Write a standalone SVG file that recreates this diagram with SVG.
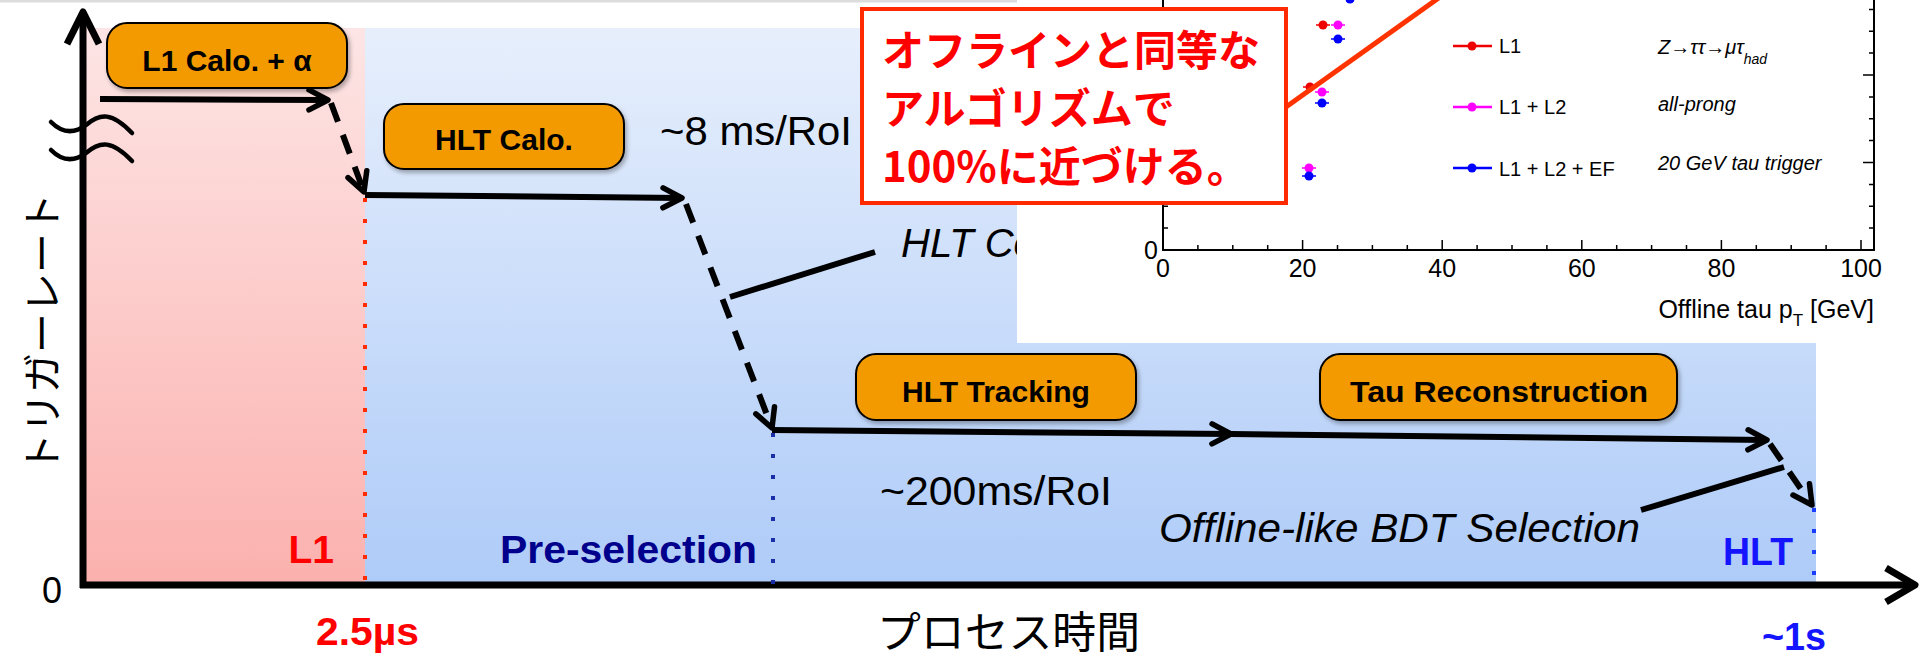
<svg xmlns="http://www.w3.org/2000/svg" width="1920" height="659" viewBox="0 0 1920 659">
  <defs>
    <linearGradient id="gPink" gradientUnits="userSpaceOnUse" x1="0" y1="28" x2="0" y2="585">
      <stop offset="0" stop-color="#fde5e5"/>
      <stop offset="1" stop-color="#fbb1ae"/>
    </linearGradient>
    <linearGradient id="gBlue" gradientUnits="userSpaceOnUse" x1="0" y1="28" x2="0" y2="585">
      <stop offset="0" stop-color="#e7effc"/>
      <stop offset="1" stop-color="#aecbf8"/>
    </linearGradient>
    <filter id="sh" x="-10%" y="-20%" width="125%" height="150%">
      <feDropShadow dx="2" dy="3" stdDeviation="2" flood-color="#000" flood-opacity="0.3"/>
    </filter>
    <marker id="ah" markerUnits="userSpaceOnUse" markerWidth="40" markerHeight="40" refX="0" refY="0" orient="auto" overflow="visible">
      <path d="M-19,-10 L0,0 L-19,10" fill="none" stroke="#000" stroke-width="5.5" stroke-linejoin="round" stroke-linecap="round"/>
    </marker>
    <style>
      .box { fill: #f29a00; stroke: #000; stroke-width: 2; }
      .boxt { font-family: "Liberation Sans", Arial, sans-serif; font-weight: bold; font-size: 30px; fill: #000; text-anchor: middle; }
      .conn { fill: none; stroke: #000; stroke-width: 6; }
      .dash { stroke-dasharray: 20 14; }
      .lbl { font-family: "Liberation Sans", Arial, sans-serif; }
      .jp { font-family: "Noto Sans CJK JP", "Noto Sans CJK SC", sans-serif; }
      .plt { font-family: "Liberation Sans", Arial, sans-serif; fill: #000; }
      .tick { fill: none; stroke: #000; stroke-width: 1.5; }
      .red { fill: #ff0000; }
      .navy { fill: #00008c; }
      .blue { fill: #1414ff; }
      .blk { fill: #000; }
    </style>
  </defs>

  <rect width="1920" height="659" fill="#fff"/>
  <rect x="0" y="0" width="1017" height="2.5" fill="#dcdcdc"/>

  <!-- background phases -->
  <g id="phase-regions">
    <rect x="84" y="28" width="281" height="557" fill="url(#gPink)"/>
    <rect x="365" y="28" width="1451" height="557" fill="url(#gBlue)"/>
  </g>

  <!-- partially hidden italic label -->
  <text class="lbl blk" x="901" y="257" font-size="40" font-style="italic">HLT Co</text>

  <!-- efficiency plot -->
  <g id="plot">
    <rect x="1017" y="0" width="903" height="343" fill="#fff"/>
    <path d="M1163,0 V250 H1874 V0" fill="none" stroke="#000" stroke-width="2"/>
    <path class="tick" d="M1163,250v-10 M1302.6,250v-10 M1442.2,250v-10 M1581.8,250v-10 M1721.4,250v-10 M1861,250v-10
      M1197.9,250v-5 M1232.8,250v-5 M1267.7,250v-5 M1337.5,250v-5 M1372.4,250v-5 M1407.3,250v-5 M1477.1,250v-5 M1512,250v-5 M1546.9,250v-5 M1616.7,250v-5 M1651.6,250v-5 M1686.5,250v-5 M1756.3,250v-5 M1791.2,250v-5 M1826.1,250v-5
      M1163,228.1h5 M1163,206.2h5 M1163,184.4h5 M1163,162.5h11 M1163,140.6h5 M1163,118.7h5 M1163,96.9h5 M1163,75h11 M1163,53.1h5 M1163,31.2h5 M1163,9.4h5
      M1874,228.1h-5 M1874,206.2h-5 M1874,184.4h-5 M1874,162.5h-11 M1874,140.6h-5 M1874,118.7h-5 M1874,96.9h-5 M1874,75h-11 M1874,53.1h-5 M1874,31.2h-5 M1874,9.4h-5"/>
    <g class="plt" font-size="25" text-anchor="middle">
      <text x="1163" y="277">0</text>
      <text x="1302.6" y="277">20</text>
      <text x="1442.2" y="277">40</text>
      <text x="1581.8" y="277">60</text>
      <text x="1721.4" y="277">80</text>
      <text x="1861" y="277">100</text>
      <text x="1158" y="259" text-anchor="end">0</text>
    </g>
    <text class="plt" x="1874" y="318" font-size="25" text-anchor="end">Offline tau p<tspan font-size="17" dy="8">T</tspan><tspan dy="-8"> [GeV]</tspan></text>
    <!-- data points -->
    <g stroke-width="1.5">
      <line x1="1316" y1="25" x2="1330" y2="25" stroke="#ee0000"/><circle cx="1323" cy="25" r="4.5" fill="#ee0000"/>
      <line x1="1331" y1="25" x2="1345" y2="25" stroke="#ff00ff"/><circle cx="1338" cy="25" r="4.5" fill="#ff00ff"/>
      <line x1="1331" y1="39" x2="1345" y2="39" stroke="#0000ff"/><circle cx="1338" cy="39" r="4.5" fill="#0000ff"/>
      <circle cx="1350" cy="-1" r="4.5" fill="#0000ff"/>
      <line x1="1303" y1="87" x2="1317" y2="87" stroke="#ee0000"/><circle cx="1310" cy="87" r="4.5" fill="#ee0000"/>
      <line x1="1315" y1="92" x2="1329" y2="92" stroke="#ff00ff"/><circle cx="1322" cy="92" r="4.5" fill="#ff00ff"/>
      <line x1="1315" y1="103" x2="1329" y2="103" stroke="#0000ff"/><circle cx="1322" cy="103" r="4.5" fill="#0000ff"/>
      <line x1="1302" y1="168" x2="1316" y2="168" stroke="#ff00ff"/><circle cx="1309" cy="168" r="4.5" fill="#ff00ff"/>
      <line x1="1302" y1="176" x2="1316" y2="176" stroke="#0000ff"/><circle cx="1309" cy="176" r="4.5" fill="#0000ff"/>
    </g>
    <!-- legend -->
    <g stroke-width="2.5">
      <line x1="1453" y1="46" x2="1492" y2="46" stroke="#ee0000"/><circle cx="1472" cy="46" r="4.5" fill="#ee0000"/>
      <line x1="1453" y1="107" x2="1492" y2="107" stroke="#ff00ff"/><circle cx="1472" cy="107" r="4.5" fill="#ff00ff"/>
      <line x1="1453" y1="168" x2="1492" y2="168" stroke="#0000ff"/><circle cx="1472" cy="168" r="4.5" fill="#0000ff"/>
    </g>
    <g class="plt" font-size="20">
      <text x="1499" y="53">L1</text>
      <text x="1499" y="114">L1 + L2</text>
      <text x="1499" y="176">L1 + L2 + EF</text>
      <text x="1658" y="54" font-style="italic">Z→ττ→μτ<tspan font-size="14" dy="10">had</tspan></text>
      <text x="1658" y="111" font-style="italic">all-prong</text>
      <text x="1658" y="170" font-style="italic">20 GeV tau trigger</text>
    </g>
  </g>

  <!-- axes -->
  <g id="axes" fill="none" stroke="#000" stroke-width="7" stroke-linejoin="round">
    <line x1="83" y1="588" x2="83" y2="13"/>
    <polyline points="67,44 83,12 99,44"/>
    <line x1="80" y1="585" x2="1913" y2="585"/>
    <polyline points="1886,568 1915,585 1886,602"/>
  </g>
  <g id="axis-break" fill="none" stroke="#000" stroke-width="4.5" stroke-linecap="round">
    <path d="M51,122 C62,133 74,134 86,125 C100,113 112,112 132,133"/>
    <path d="M51,150 C62,161 74,162 86,153 C100,141 112,140 132,161"/>
  </g>
  <text class="lbl blk" x="52" y="603" font-size="36" text-anchor="middle">0</text>
  <text class="jp blk" transform="translate(57,333) rotate(-90)" font-size="40" text-anchor="middle">トリガーレート</text>
  <text class="jp blk" x="877" y="648" font-size="43" textLength="263" lengthAdjust="spacingAndGlyphs">プロセス時間</text>

  <!-- phase boundaries -->
  <g id="boundaries" fill="none" stroke-width="4" stroke-dasharray="4 17">
    <line x1="365" y1="198" x2="365" y2="585" stroke="#ff2a00"/>
    <line x1="773" y1="433" x2="773" y2="585" stroke="#1a2ea8"/>
    <line x1="1814" y1="508" x2="1814" y2="585" stroke="#1a3cff"/>
  </g>

  <!-- connectors -->
  <g id="connectors">
    <line class="conn" x1="100" y1="99" x2="328" y2="100" marker-end="url(#ah)"/>
    <line class="conn dash" x1="331" y1="103" x2="364" y2="192" marker-end="url(#ah)"/>
    <line class="conn" x1="365" y1="195" x2="682" y2="198" marker-end="url(#ah)"/>
    <line class="conn dash" x1="686" y1="204" x2="772" y2="428" marker-end="url(#ah)"/>
    <line class="conn" x1="772" y1="430" x2="1231" y2="434" marker-end="url(#ah)"/>
    <line class="conn" x1="1231" y1="434" x2="1767" y2="440" marker-end="url(#ah)"/>
    <line class="conn dash" x1="1770" y1="444" x2="1812" y2="505" marker-end="url(#ah)"/>
    <line class="conn" x1="730" y1="297" x2="875" y2="252"/>
    <line class="conn" x1="1641" y1="510" x2="1784" y2="467"/>
    <line x1="1286" y1="107" x2="1440" y2="-3" stroke="#ff3300" stroke-width="5"/>
  </g>

  <!-- nodes -->
  <g id="node-l1calo">
    <rect class="box" x="107" y="23" width="240" height="65" rx="20" filter="url(#sh)"/>
    <text class="boxt" x="227" y="71">L1 Calo. + α</text>
  </g>
  <g id="node-hltcalo">
    <rect class="box" x="384" y="104" width="240" height="65" rx="20" filter="url(#sh)"/>
    <text class="boxt" x="504" y="150">HLT Calo.</text>
  </g>
  <g id="node-hlttracking">
    <rect class="box" x="856" y="354" width="280" height="66" rx="20" filter="url(#sh)"/>
    <text class="boxt" x="996" y="402">HLT Tracking</text>
  </g>
  <g id="node-taureco">
    <rect class="box" x="1320" y="354" width="357" height="66" rx="20" filter="url(#sh)"/>
    <text class="boxt" x="1499" y="402" textLength="298" lengthAdjust="spacingAndGlyphs">Tau Reconstruction</text>
  </g>

  <!-- annotations -->
  <g id="annotations">
    <text class="lbl blk" x="660" y="145" font-size="40" textLength="192" lengthAdjust="spacingAndGlyphs">~8 ms/RoI</text>
    <text class="lbl blk" x="880" y="505" font-size="40" textLength="232" lengthAdjust="spacingAndGlyphs">~200ms/RoI</text>
    <text class="lbl blk" x="1159" y="542" font-size="40" font-style="italic" textLength="481" lengthAdjust="spacingAndGlyphs">Offline-like BDT Selection</text>
    <text class="lbl red" x="334" y="563" font-size="39" font-weight="bold" text-anchor="end">L1</text>
    <text class="lbl navy" x="500" y="563" font-size="39" font-weight="bold" textLength="257" lengthAdjust="spacingAndGlyphs">Pre-selection</text>
    <text class="lbl blue" x="1723" y="565" font-size="38" font-weight="bold" textLength="70" lengthAdjust="spacingAndGlyphs">HLT</text>
    <text class="lbl red" x="316" y="645" font-size="38" font-weight="bold" textLength="103" lengthAdjust="spacingAndGlyphs">2.5µs</text>
    <text class="lbl blue" x="1762" y="650" font-size="38" font-weight="bold" textLength="64" lengthAdjust="spacingAndGlyphs">~1s</text>
  </g>

  <!-- callout -->
  <g id="callout">
    <rect x="862" y="9" width="424" height="194" fill="#fff" stroke="#ff2a00" stroke-width="4"/>
    <g class="jp" font-size="42" font-weight="bold" fill="#ff0000">
      <text x="882" y="66">オフラインと同等な</text>
      <text x="882" y="124">アルゴリズムで</text>
      <text x="882" y="182">100%に近づける。</text>
    </g>
  </g>
</svg>
